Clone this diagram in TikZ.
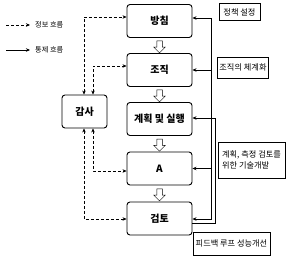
\documentclass[tikz,border=0pt]{standalone}
\usepackage{fontspec}
\setmainfont{Noto Sans CJK KR}
\usetikzlibrary{arrows.meta,positioning,shapes.arrows,calc}

\begin{document}
\begin{tikzpicture}[
    x=1pt, y=-1pt,
    >={Stealth[length=4pt,width=3.5pt]},
    stepbox/.style={
        rectangle,
        rounded corners=3pt,
        draw,
        line width=0.9pt,
        minimum width=65pt,
        minimum height=33pt,
        font=\fontsize{10}{12}\selectfont\bfseries,
        inner sep=0pt
    },
    audit/.style={
        stepbox,
        minimum width=45pt
    },
    note/.style={
        rectangle,
        draw,
        line width=0.5pt,
        font=\fontsize{8.2}{11}\selectfont,
        align=left,
        inner sep=2pt
    },
    hollow/.style={
        single arrow,
        draw,
        fill=white,
        shape border rotate=270,
        minimum height=12pt,
        single arrow head extend=3pt,
        inner sep=2.5pt,
        line width=0.5pt
    },
    info/.style={<->, dash pattern=on 3pt off 2pt, line width=0.5pt},
    ctrl/.style={line width=0.6pt},
    legend/.style={font=\fontsize{7.2}{9}\selectfont, anchor=west, inner sep=0pt}
]
\useasboundingbox (0,0) rectangle (289,260);

% Legend
\coordinate (lg1a) at (6,25);
\coordinate (lg1b) at (30,25);
\coordinate (lg2a) at (6,50);
\coordinate (lg2b) at (30,50);
\draw[->, dash pattern=on 3pt off 2pt, line width=0.5pt] (lg1a) -- (lg1b);
\draw[->, ctrl] (lg2a) -- (lg2b);
\node[legend] (lgInfo) at (35,25) {정보 흐름};
\node[legend] (lgCtrl) at (35,50) {통제 흐름};

% Main steps
\node[stepbox] (bangchim) at (159.5,21) {방침};
\node[stepbox] (jojik) at (159.5,70) {조직};
\node[stepbox] (silhaeng) at (159.5,119) {계획 및 실행};
\node[stepbox] (aa) at (159.5,168.5) {A};
\node[stepbox] (geomto) at (159.5,218.5) {검토};

% Hollow arrows between steps
\node[hollow] (h1) at ($(bangchim.south)!0.5!(jojik.north)$) {};
\node[hollow] (h2) at ($(jojik.south)!0.5!(silhaeng.north)$) {};
\node[hollow] (h3) at ($(silhaeng.south)!0.5!(aa.north)$) {};
\node[hollow] (h4) at ($(aa.south)!0.5!(geomto.north)$) {};

% Audit
\node[audit] (gamsa) at (84.5,111.5) {감사};

% Information flow (dashed)
\coordinate (in1) at (84,17);
\coordinate (in2) at (93,66);
\coordinate (in3) at (93,171);
\coordinate (in4) at (84,219);
\draw[info] (in1 |- gamsa.north) -- (in1) -- (in1 -| bangchim.west);
\draw[info] (in2 |- gamsa.north) -- (in2) -- (in2 -| jojik.west);
\draw[info] (in3 |- gamsa.south) -- (in3) -- (in3 -| aa.west);
\draw[info] (in4 |- gamsa.south) -- (in4) -- (in4 -| geomto.west);

% Control flow (feedback)
\coordinate (fbtop) at (211,18);
\coordinate (fbbot) at (211,219);
\coordinate (fb2top) at (215,118);
\coordinate (fb2bot) at (215,223);
\draw[ctrl,<->] (fbbot -| geomto.east) -- (fbbot) -- (fbtop) -- (fbtop -| bangchim.east);
\draw[ctrl,->] (fbtop |- jojik.east) -- (jojik.east);
\draw[ctrl,->] (fbtop |- aa.east) -- (aa.east);
\draw[ctrl,->] (fb2bot -| geomto.east) -- (fb2bot) -- (fb2top) -- (fb2top -| silhaeng.east);

% Notes
\node[note, minimum width=41pt, minimum height=17pt] (nPolicy) at (239.5,12) {정책 설정};
\node[note, minimum width=50pt, minimum height=21pt] (nOrg) at (243,67.5) {조직의 체계화};
\node[note, minimum width=67pt, minimum height=36pt] (nTech) at (251.5,160) {계획, 측정 검토를\\위한 기술개발};
\node[note, minimum width=77pt, minimum height=23pt] (nLoop) at (231.5,243.5) {피드백 루프 성능개선};

\end{tikzpicture}
\end{document}
